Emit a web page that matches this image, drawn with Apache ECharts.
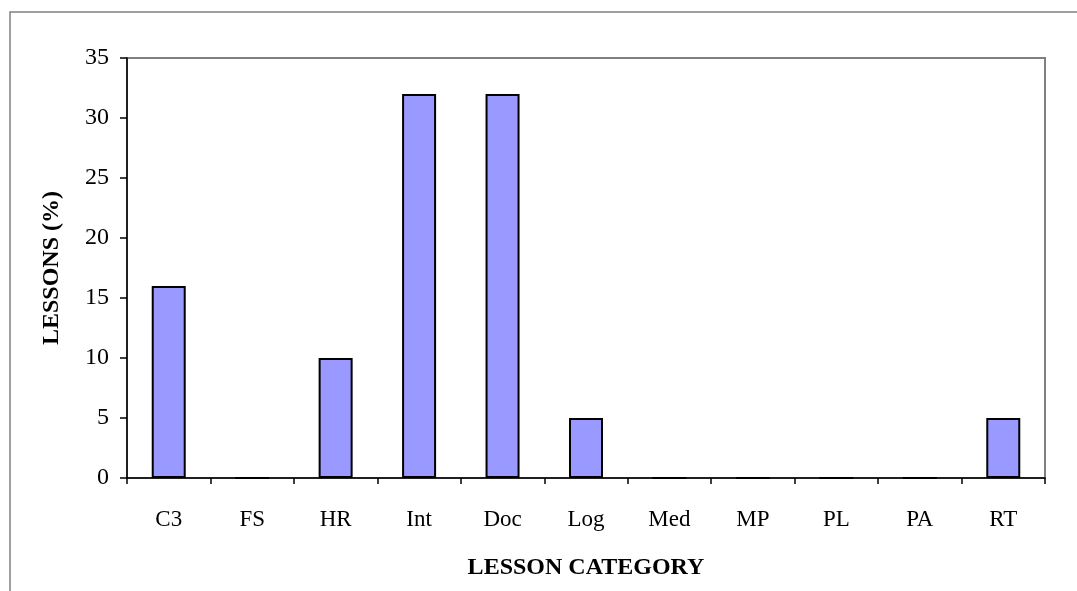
<!DOCTYPE html>
<html>
<head>
<meta charset="utf-8">
<script src="https://cdn.jsdelivr.net/npm/echarts@6/dist/echarts.min.js"></script>
<style>
  html, body { margin: 0; padding: 0; background: #ffffff; }
  #chart { width: 1077px; height: 591px; }
</style>
</head>
<body>
<div id="chart"></div>
<script>
// Lesson categories and share of lessons (%) in each
const categories = ['C3', 'FS', 'HR', 'Int', 'Doc', 'Log', 'Med', 'MP', 'PL', 'PA', 'RT'];
const lessonShare = [16, 0, 10, 32, 32, 5, 0, 0, 0, 0, 5];
const yTicks = { min: 0, max: 35, interval: 5 };

const serif = '"Liberation Serif", "Times New Roman", serif';

const chart = echarts.init(document.getElementById('chart'), null, { renderer: 'canvas' });

chart.setOption({
  animation: false,
  backgroundColor: '#ffffff',
  graphic: [{
    type: 'rect',
    shape: { x: 10, y: 12, width: 1100, height: 620 },
    style: { fill: 'none', stroke: '#808080', lineWidth: 1.5 },
    silent: true,
    z: -10
  }],
  grid: {
    left: 127, top: 58, right: 32, bottom: 113,
    show: true,
    borderColor: '#808080',
    borderWidth: 2,
    backgroundColor: 'transparent'
  },
  xAxis: {
    type: 'category',
    data: categories,
    name: 'LESSON CATEGORY',
    nameLocation: 'middle',
    nameGap: 78,
    nameTextStyle: { fontFamily: serif, fontSize: 24, fontWeight: 'bold', color: '#000' },
    axisLine: { show: true, lineStyle: { color: '#000', width: 1.5 } },
    axisTick: { show: true, inside: false, length: 6, alignWithLabel: false, lineStyle: { color: '#000', width: 1.5 } },
    axisLabel: { fontFamily: serif, fontSize: 23, color: '#000', margin: 30, interval: 0 },
    splitLine: { show: false }
  },
  yAxis: {
    type: 'value',
    min: yTicks.min,
    max: yTicks.max,
    interval: yTicks.interval,
    name: 'LESSONS (%)',
    nameLocation: 'middle',
    nameGap: 63,
    nameRotate: 90,
    nameTextStyle: { fontFamily: serif, fontSize: 24, fontWeight: 'bold', color: '#000' },
    axisLine: { show: true, lineStyle: { color: '#000', width: 1.5 } },
    axisTick: { show: true, inside: false, length: 7, lineStyle: { color: '#000', width: 1.5 } },
    axisLabel: { fontFamily: serif, fontSize: 24, color: '#000', margin: 18 },
    splitLine: { show: false }
  },
  series: [{
    type: 'bar',
    data: lessonShare,
    barWidth: 34,
    itemStyle: { color: '#9999ff', borderColor: '#000', borderWidth: 2 }
  }]
});
</script>
</body>
</html>
